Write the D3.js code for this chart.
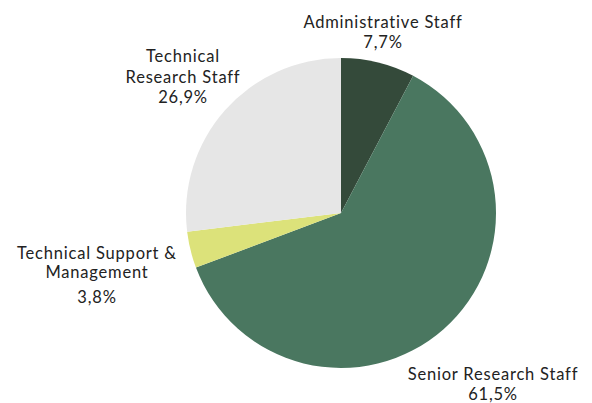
<!DOCTYPE html>
<html><head><meta charset="utf-8">
<script src="https://cdn.jsdelivr.net/npm/d3@7"></script>
<style>body{margin:0;background:#fff}svg{display:block}</style>
</head><body>
<svg id="c" width="592" height="403"></svg>
<script>
const categories = ["Administrative Staff", "Senior Research Staff", "Technical Support & Management", "Technical Research Staff"];
const values = [7.7, 61.5, 3.8, 26.9];
const colors = ["#344a3a", "#4a7760", "#dce27a", "#e6e6e6"];
// label line breaks & anchor positions (layout)
const labelLines = [["Administrative Staff"], ["Senior Research Staff"], ["Technical Support &", "Management"], ["Technical", "Research Staff"]];
const labelPos = [[383, 28, 20], [493, 380, 19], [97, 259, 19], [183, 62, 20.5]];
const pctGap = [20, 19.5, 25, 20.5];

const svg = d3.select("#c");
const cx = 341, cy = 213, r = 155;
const pie = d3.pie().sort(null).value(d => d)(values);
const arc = d3.arc().innerRadius(0).outerRadius(r);
const g = svg.append("g").attr("transform", `translate(${cx},${cy})`);
g.selectAll("path").data(pie).join("path").attr("d", arc).attr("fill", (d, i) => colors[i]);

const loc = d3.formatLocale({decimal: ",", thousands: ".", grouping: [3], currency: ["", ""]});
const fmt = v => loc.format(".1f")(v) + "%";

const font = "Lato, sans-serif";
categories.forEach((c, i) => {
  const [x, y, lh] = labelPos[i];
  const t = svg.append("text").attr("text-anchor", "middle").attr("font-family", font)
    .attr("font-size", 16.5).attr("letter-spacing", 0.8).attr("fill", "#222");
  labelLines[i].forEach((l, j) => t.append("tspan").attr("x", x).attr("y", y + j * lh).text(l));
  const n = labelLines[i].length;
  t.append("tspan").attr("x", x).attr("y", y + (n - 1) * lh + pctGap[i]).text(fmt(values[i]));
});
</script>
</body></html>
